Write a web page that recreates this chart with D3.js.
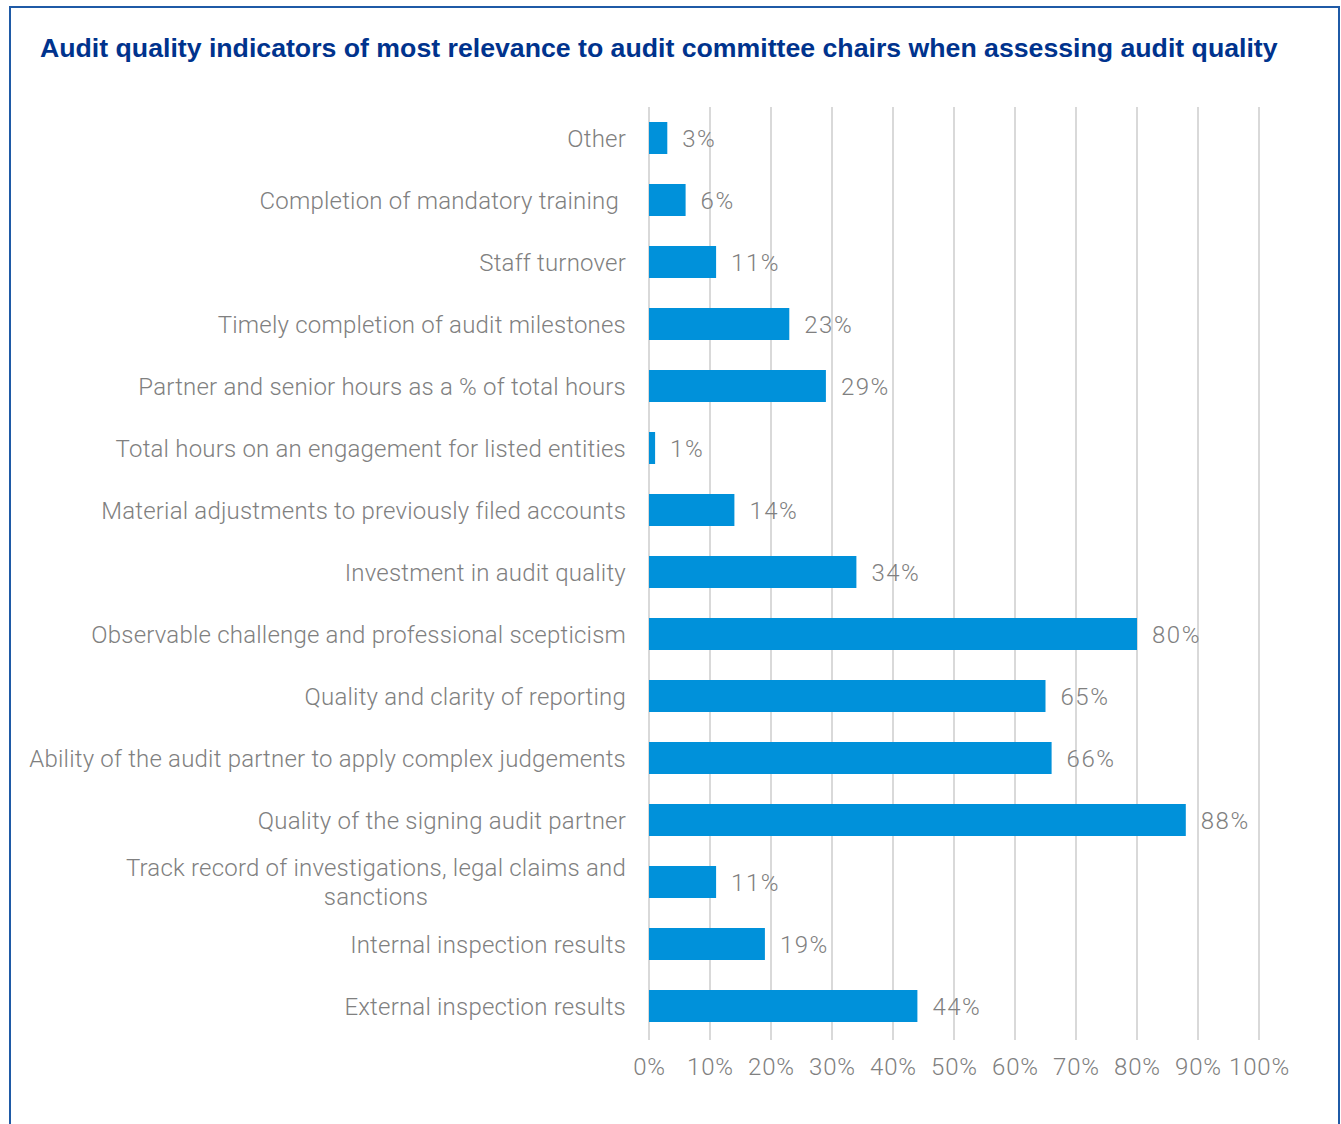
<!DOCTYPE html>
<html><head><meta charset="utf-8">
<script src="https://cdn.jsdelivr.net/npm/d3@7"></script>
<style>
html,body{margin:0;padding:0;background:#fff;}
svg{display:block;}
</style></head>
<body>
<svg id="chart" width="1341" height="1124"></svg>
<script>
const title = "Audit quality indicators of most relevance to audit committee chairs when assessing audit quality";
const categories = [
  "Other",
  "Completion of mandatory training",
  "Staff turnover",
  "Timely completion of audit milestones",
  "Partner and senior hours as a % of total hours",
  "Total hours on an engagement for listed entities",
  "Material adjustments to previously filed accounts",
  "Investment in audit quality",
  "Observable challenge and professional scepticism",
  "Quality and clarity of reporting",
  "Ability of the audit partner to apply complex judgements",
  "Quality of the signing audit partner",
  "Track record of investigations, legal claims and\nsanctions",
  "Internal inspection results",
  "External inspection results"
];
const values = [3, 6, 11, 23, 29, 1, 14, 34, 80, 65, 66, 88, 11, 19, 44];
const tickValues = [0, 10, 20, 30, 40, 50, 60, 70, 80, 90, 100];

const svg = d3.select("#chart");
const gray = "#808080";
const font = "Roboto, 'Liberation Sans', Arial, sans-serif";

// frame
svg.append("rect").attr("x", 10).attr("y", 7).attr("width", 1329).attr("height", 1130)
  .attr("fill", "none").attr("stroke", "#1f5aa6").attr("stroke-width", 2);

// title
const t = svg.append("text").attr("x", 40).attr("y", 57)
  .attr("font-family", "Arial, 'Liberation Sans', sans-serif").attr("font-weight", "bold")
  .attr("font-size", 24).attr("fill", "#00338d").text(title);
const tw = t.node().getComputedTextLength();
t.attr("font-size", 24 * 1238 / tw);

const x = d3.scaleLinear().domain([0, 100]).range([649, 1259]);
const y = d3.scaleBand().domain(categories).range([107, 1037]).paddingInner(0.484).paddingOuter(0.242);

// gridlines
svg.append("g").selectAll("line").data(tickValues).join("line")
  .attr("x1", d => x(d)).attr("x2", d => x(d))
  .attr("y1", 107).attr("y2", 1040)
  .attr("stroke", "#d9d9d9").attr("stroke-width", 2);

// axis labels
const axis = d3.axisBottom(x).tickValues(tickValues).tickFormat(d => d + "%").tickSize(0).tickPadding(18);
const ag = svg.append("g").attr("transform", "translate(0,1040)").call(axis);
ag.select(".domain").remove();
ag.selectAll("text").attr("font-family", font).attr("font-weight", 300)
  .attr("font-size", 24).attr("letter-spacing", 0.8).attr("fill", gray);

// bars
svg.append("g").selectAll("rect").data(values).join("rect")
  .attr("x", x(0)).attr("y", (d, i) => y(categories[i]))
  .attr("width", d => x(d) - x(0)).attr("height", y.bandwidth())
  .attr("fill", "#0091da");

// value labels
svg.append("g").selectAll("text").data(values).join("text")
  .attr("x", d => x(d) + 15).attr("y", (d, i) => y(categories[i]) + y.bandwidth() / 2)
  .attr("dy", "0.36em")
  .attr("font-family", font).attr("font-weight", 300).attr("font-size", 24)
  .attr("letter-spacing", 1.5)
  .attr("fill", gray).text(d => d + "%");

// category labels
const labelRight = 626;
const lg = svg.append("g");
categories.forEach((c, i) => {
  const cy = y(c) + y.bandwidth() / 2;
  const lines = c.split("\n");
  const txt = lg.append("text").attr("font-family", font).attr("font-weight", 300).attr("font-size", 24)
    .attr("letter-spacing", 0.2).attr("fill", gray);
  if (lines.length === 1) {
    const extra = (c === "Completion of mandatory training") ? -7 : 0;
    txt.attr("x", labelRight + extra).attr("y", cy).attr("dy", "0.36em")
      .attr("text-anchor", "end").text(c);
  } else {
    const lh = 29;
    txt.attr("text-anchor", "middle");
    lines.forEach((l, k) => {
      txt.append("tspan").attr("x", 0).attr("y", cy + (k - (lines.length - 1) / 2) * lh).attr("dy", "0.36em").text(l);
    });
    const bw = txt.node().getBBox().width;
    txt.selectAll("tspan").attr("x", labelRight - bw / 2);
  }
});
</script>
</body></html>
